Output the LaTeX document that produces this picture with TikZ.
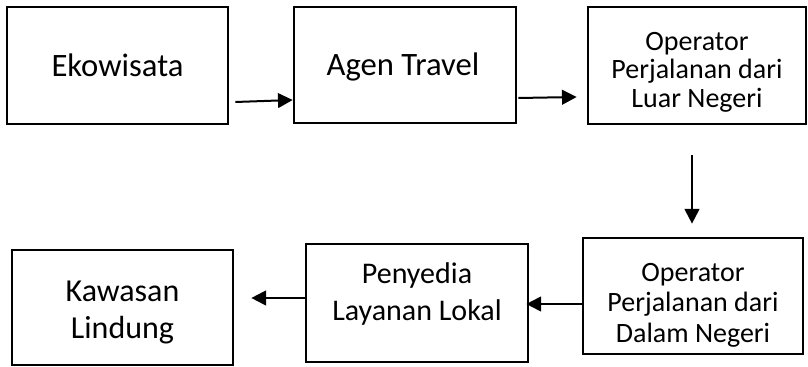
\documentclass[tikz,border=0pt]{standalone}
\usepackage{fontspec}
\setmainfont{Carlito}
\usetikzlibrary{arrows.meta,positioning}
\begin{document}
\begin{tikzpicture}[x=0.75pt,y=-0.75pt,
  box/.style={draw=black,line width=2pt,align=center,inner sep=0pt},
  bigtext/.style={font=\fontsize{24.5}{28}\selectfont},
  kawtext/.style={font=\fontsize{24}{28}\selectfont},
  luartext/.style={font=\fontsize{21}{21.4}\selectfont},
  dalamtext/.style={font=\fontsize{21}{23}\selectfont},
  midtext/.style={font=\fontsize{22.5}{27.5}\selectfont},
  arr/.style={line width=1.5pt,-{Triangle[length=11pt,width=11pt]}}]
\useasboundingbox (0,0) rectangle (808,367);
\node[box,minimum width=221*0.75pt,minimum height=117*0.75pt] (eko) at (117.5,65.5) {};
\node[bigtext,anchor=base] at (117.5,77) {Ekowisata};
\node[box,minimum width=222*0.75pt,minimum height=116*0.75pt] (agen) at (405,65) {};
\node[bigtext,anchor=base] at (403,76) {Agen Travel};
\node[box,minimum width=218*0.75pt,minimum height=117*0.75pt] (luar) at (697,65.5) {};
\node[luartext,align=center] at (697,72) {Operator\\Perjalanan dari\\Luar Negeri};
\node[box,minimum width=220*0.75pt,minimum height=116*0.75pt] (dalam) at (693,296) {};
\node[dalamtext,align=center] at (693,305) {Operator\\Perjalanan dari\\Dalam Negeri};
\node[box,minimum width=222*0.75pt,minimum height=118*0.75pt] (peny) at (417,303) {};
\node[midtext,align=center] at (417,294) {Penyedia\\Layanan Lokal};
\node[box,minimum width=221*0.75pt,minimum height=115*0.75pt] (kaw) at (122.5,307.5) {};
\node[kawtext,align=center] at (122.5,312.5) {Kawasan\\Lindung};
% connectors
\draw[arr] ([xshift=4.5pt]eko.east |- 0,102) -- (agen.west |- 0,100);
\draw[arr] ([xshift=0.75pt]agen.east |- 0,98) -- ([xshift=-7.5pt]luar.west |- 0,97);
\draw[arr] (692,155) -- ([yshift=9.75pt]dalam.north -| 692,0);
\draw[arr] (dalam.west |- 0,304) -- ([xshift=-2.25pt]peny.east |- 0,304);
\draw[arr] (peny.west |- 0,298) -- ([xshift=12.75pt]kaw.east |- 0,298);
\end{tikzpicture}
\end{document}
